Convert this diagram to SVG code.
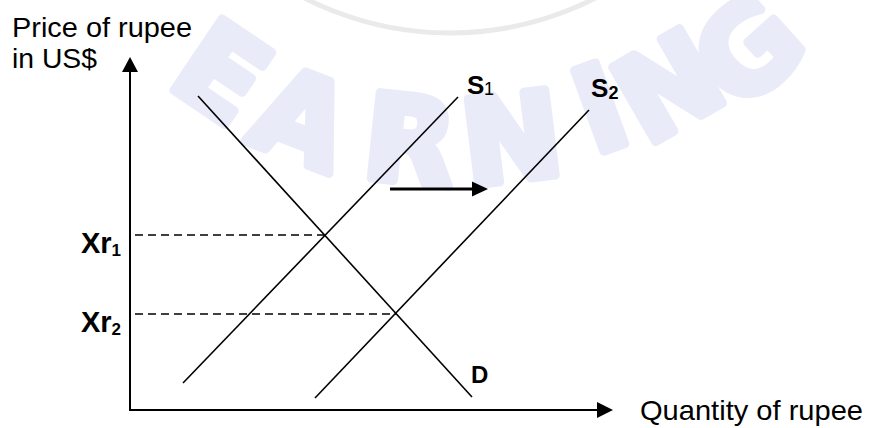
<svg xmlns="http://www.w3.org/2000/svg" width="869" height="428" viewBox="0 0 869 428">
  <style>
    .wm { font-family: "DejaVu Sans", "Liberation Sans", sans-serif; font-weight: bold; font-size: 118px; fill: #e9ebf9; stroke: #e9ebf9; stroke-width: 9; stroke-linejoin: round; text-anchor: middle; }
    .ax { stroke: #000; stroke-width: 2; fill: none; }
    .curve { stroke: #000; stroke-width: 1.6; fill: none; }
    .dash { stroke: #000; stroke-width: 1.5; stroke-dasharray: 8 5; fill: none; }
    .lbl { font-family: "Liberation Sans", Arial, sans-serif; fill: #000; }
    .b { font-weight: bold; }
    .head { fill: #000; }
  </style>
  <rect width="869" height="428" fill="#fff"/>
  <g id="watermark">
    <circle cx="450" cy="-287" r="320" fill="none" stroke="#eaeaea" stroke-width="5"/>
    <text class="wm" transform="translate(222,72) rotate(34)" y="42">E</text>
    <text class="wm" transform="translate(302,118) rotate(21)" y="42">A</text>
    <text class="wm" transform="translate(410,140) rotate(6)" y="42">R</text>
    <text class="wm" transform="translate(512,138) rotate(-7)" y="42">N</text>
    <text class="wm" transform="translate(600,108) rotate(-20)" y="42">I</text>
    <text class="wm" transform="translate(668,86) rotate(-30)" y="42">N</text>
    <text class="wm" transform="translate(748,50) rotate(-42)" y="42">G</text>
  </g>
  <g id="connectors">
    <g id="y-axis">
      <line class="ax" x1="130" y1="411" x2="130" y2="70"/>
      <polygon class="head" points="130,57 122,72 138,72"/>
    </g>
    <g id="x-axis">
      <line class="ax" x1="129" y1="410" x2="599" y2="410"/>
      <polygon class="head" points="613,410 597,402 597,418"/>
    </g>
    <g id="guide-xr1"><line class="dash" x1="135" y1="235" x2="325" y2="235"/></g>
    <g id="guide-xr2"><line class="dash" x1="135" y1="314" x2="396" y2="314"/></g>
    <g id="shift-arrow">
      <line x1="390" y1="189" x2="474" y2="189" stroke="#000" stroke-width="3.2"/>
      <polygon class="head" points="488,189 472,181.5 472,196.5"/>
    </g>
  </g>
  <g id="demand">
    <line class="curve" x1="198" y1="96" x2="472" y2="397"/>
    <text class="lbl b" x="471" y="383" font-size="24">D</text>
  </g>
  <g id="supply1">
    <line class="curve" x1="183" y1="383" x2="458" y2="97"/>
    <text class="lbl b" x="467" y="94" font-size="26">S<tspan x="484" y="95" font-size="18" font-weight="normal">1</tspan></text>
  </g>
  <g id="supply2">
    <line class="curve" x1="315" y1="398" x2="589" y2="110"/>
    <text class="lbl b" x="591" y="97" font-size="26">S<tspan x="608.5" y="99" font-size="18">2</tspan></text>
  </g>
  <g id="label-xr1">
    <text class="lbl b" x="81" y="253" font-size="29">Xr<tspan x="111.5" y="256" font-size="17">1</tspan></text>
  </g>
  <g id="label-xr2">
    <text class="lbl b" x="81" y="332" font-size="29">Xr<tspan x="111.5" y="335" font-size="17">2</tspan></text>
  </g>
  <g id="y-label">
    <text class="lbl" x="12" y="37" font-size="27" textLength="180" lengthAdjust="spacingAndGlyphs">Price of rupee</text>
    <text class="lbl" x="12" y="68" font-size="27" textLength="85" lengthAdjust="spacingAndGlyphs">in US$</text>
  </g>
  <g id="x-label">
    <text class="lbl" x="640" y="420" font-size="28" textLength="223" lengthAdjust="spacingAndGlyphs">Quantity of rupee</text>
  </g>
</svg>
